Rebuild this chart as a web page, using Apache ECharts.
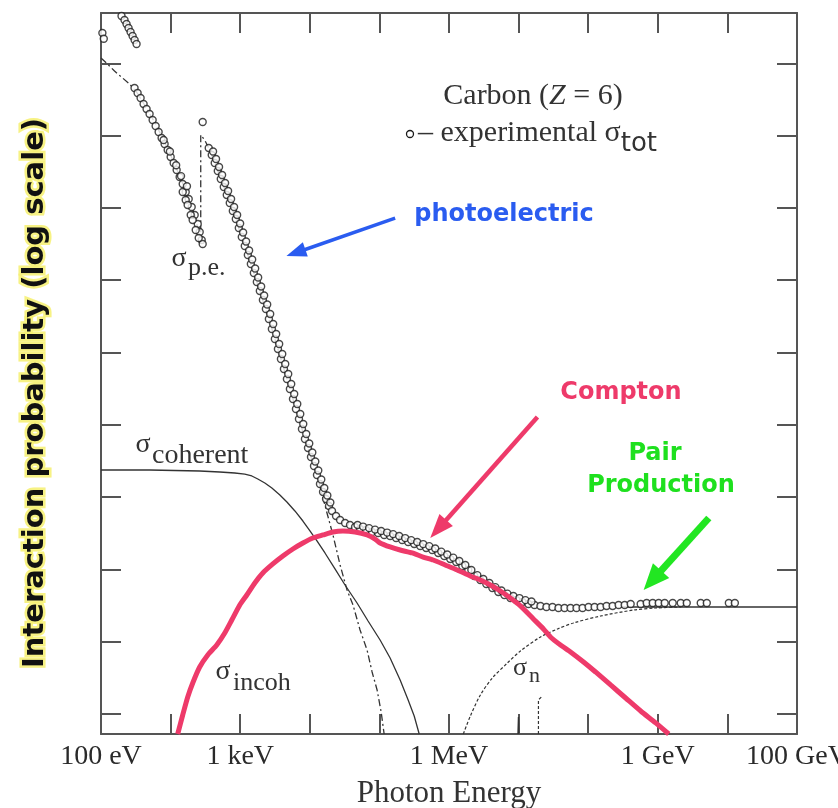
<!DOCTYPE html>
<html>
<head>
<meta charset="utf-8">
<title>Photon interaction probability in carbon</title>
<script src="https://cdn.jsdelivr.net/npm/echarts@6.0.0/dist/echarts.min.js"></script>
<style>
  html, body { margin: 0; padding: 0; background: #fff; }
  #chart { width: 838px; height: 808px; }
</style>
</head>
<body>
<div id="chart"></div>
<script>
// x values are log10(photon energy), y values are decades of interaction probability.

// Bottom axis tick labels (position on the log-energy axis -> text)
const energyTickPos = [1, 3, 6, 9, 11];
const energyTickText = ['100 eV', '1 keV', '1 MeV', '1 GeV', '100 GeV'];
const energyTicks = [1, 2, 3, 4, 5, 6, 7, 8, 9, 10, 11];
const probTicks = [0, 1, 2, 3, 4, 5, 6, 7, 8, 9];

// Experimental total cross section (open circles)
const expLowest = [[1.02, 9.42], [1.04, 9.34], [1.295, 9.654], [1.338, 9.599], [1.367, 9.543], [1.396, 9.488],
  [1.425, 9.433], [1.454, 9.378], [1.483, 9.322], [1.511, 9.267]];
const expBelowEdge = [[1.482, 8.658], [1.526, 8.589], [1.569, 8.520], [1.612, 8.437], [1.655, 8.368], [1.698, 8.299],
  [1.742, 8.216], [1.785, 8.133], [1.828, 8.050], [1.871, 7.967], [1.914, 7.884], [1.958, 7.801], [2.001, 7.704],
  [2.044, 7.621], [2.087, 7.524], [2.130, 7.427], [2.174, 7.331], [2.217, 7.220], [2.260, 7.123], [2.303, 7.012],
  [2.346, 6.902], [2.390, 6.777], [2.418, 6.667], [2.447, 6.556], [2.461, 6.501], [2.174, 7.220], [2.217, 7.109],
  [2.245, 7.040], [2.289, 6.902], [2.317, 6.833], [2.361, 6.694], [2.404, 6.584], [2.461, 8.188],
  [1.900, 7.940], [1.990, 7.780], [2.080, 7.590], [2.150, 7.440], [2.235, 7.300]];
const expAboveEdge = [[2.548, 7.828], [2.591, 7.732], [2.634, 7.621], [2.678, 7.510], [2.721, 7.400], [2.764, 7.289],
  [2.807, 7.178], [2.850, 7.068], [2.894, 6.957], [2.937, 6.846], [2.980, 6.722], [3.023, 6.597], [3.066, 6.473],
  [3.110, 6.348], [3.153, 6.224], [3.196, 6.099], [3.239, 5.975], [3.282, 5.850], [3.326, 5.726], [3.369, 5.602],
  [3.412, 5.463], [3.455, 5.325], [3.498, 5.187], [3.542, 5.048], [3.585, 4.910], [3.628, 4.772], [3.671, 4.633],
  [3.714, 4.495], [3.758, 4.357], [3.801, 4.218], [3.844, 4.080], [3.887, 3.942], [3.930, 3.804], [3.974, 3.679],
  [4.017, 3.555], [4.060, 3.430], [4.103, 3.306], [4.146, 3.181], [4.190, 3.070], [4.233, 2.974], [4.276, 2.877],
  [4.319, 2.808], [4.377, 2.739], [4.435, 2.683], [4.507, 2.642], [4.578, 2.614],
  [2.610, 7.780], [2.653, 7.677], [2.696, 7.566], [2.740, 7.455], [2.783, 7.345], [2.826, 7.234], [2.869, 7.123],
  [2.912, 7.013], [2.956, 6.902], [2.999, 6.784], [3.042, 6.660], [3.085, 6.535], [3.128, 6.411], [3.172, 6.286],
  [3.215, 6.162], [3.258, 6.037], [3.301, 5.913], [3.344, 5.788], [3.388, 5.664], [3.431, 5.533], [3.474, 5.394],
  [3.517, 5.256], [3.560, 5.118], [3.604, 4.979], [3.647, 4.841], [3.690, 4.703], [3.733, 4.564], [3.776, 4.426],
  [3.820, 4.288], [3.863, 4.149], [3.906, 4.011], [3.949, 3.873], [3.992, 3.742], [4.036, 3.617], [4.079, 3.493],
  [4.122, 3.368], [4.165, 3.244], [4.208, 3.126], [4.252, 3.022], [4.295, 2.926]];
const expHighEnergy = [[4.650, 2.586], [4.722, 2.559], [4.808, 2.545], [4.895, 2.517], [4.981, 2.503], [5.068, 2.476],
  [5.154, 2.462], [5.240, 2.434], [5.327, 2.407], [5.413, 2.379], [5.500, 2.351], [5.586, 2.324], [5.672, 2.296],
  [5.759, 2.268], [5.845, 2.227], [5.932, 2.185], [6.018, 2.144], [6.104, 2.102], [6.191, 2.047], [6.277, 1.992],
  [6.364, 1.909], [6.450, 1.853], [6.536, 1.798], [6.623, 1.743], [6.709, 1.687], [6.796, 1.646], [6.882, 1.604],
  [6.968, 1.577], [7.055, 1.549], [7.141, 1.521], [7.228, 1.508], [7.314, 1.494], [7.400, 1.480], [7.487, 1.480],
  [7.573, 1.466], [7.660, 1.466], [7.746, 1.466], [7.832, 1.466], [7.919, 1.466], [8.005, 1.480], [8.092, 1.480],
  [8.178, 1.480], [8.264, 1.494], [8.351, 1.494], [8.437, 1.508], [8.524, 1.508], [8.610, 1.521], [8.754, 1.521],
  [8.840, 1.535], [8.927, 1.535], [9.013, 1.535], [9.099, 1.535], [9.214, 1.535], [9.330, 1.535], [9.416, 1.535],
  [9.617, 1.535], [9.704, 1.535], [10.021, 1.535], [10.107, 1.535],
  [4.686, 2.613], [4.765, 2.592], [4.852, 2.571], [4.938, 2.550], [5.025, 2.530], [5.111, 2.509], [5.197, 2.488],
  [5.284, 2.461], [5.370, 2.433], [5.457, 2.405], [5.543, 2.378], [5.629, 2.350], [5.716, 2.322], [5.802, 2.288],
  [5.889, 2.246], [5.975, 2.205], [6.061, 2.163], [6.148, 2.115], [6.234, 2.060], [6.321, 1.991], [6.407, 1.921],
  [6.493, 1.866], [6.580, 1.811], [6.666, 1.755], [6.753, 1.707], [6.839, 1.665], [6.925, 1.631], [7.012, 1.603],
  [7.098, 1.575], [7.185, 1.555]];

// Calculated partial cross sections
const photoElectric = [[1.0, 9.073], [1.094, 8.990], [1.194, 8.893], [1.310, 8.797], [1.410, 8.714], [1.511, 8.603],
  [1.626, 8.423], [1.770, 8.188], [1.914, 7.911], [2.058, 7.607], [2.202, 7.275], [2.346, 6.902], [2.418, 6.611],
  [2.433, 6.514], [2.433, 8.008], [2.490, 7.939], [2.563, 7.801], [2.721, 7.400], [2.894, 6.957], [3.066, 6.473],
  [3.239, 5.975], [3.412, 5.463], [3.585, 4.910], [3.758, 4.357], [3.930, 3.804], [4.103, 3.306], [4.247, 2.780],
  [4.333, 2.476], [4.435, 2.061], [4.535, 1.715], [4.621, 1.508], [4.722, 1.162], [4.823, 0.885], [4.895, 0.581],
  [4.967, 0.332], [5.025, 0.028], [5.068, -0.277]];
const coherent = [[1.0, 3.375], [1.698, 3.375], [2.418, 3.361], [2.706, 3.347], [2.922, 3.333], [3.066, 3.319],
  [3.167, 3.292], [3.253, 3.250], [3.354, 3.195], [3.455, 3.126], [3.570, 3.029], [3.671, 2.932], [3.786, 2.808],
  [3.901, 2.669], [4.002, 2.531], [4.103, 2.393], [4.218, 2.227], [4.362, 2.006], [4.506, 1.784], [4.679, 1.535],
  [4.837, 1.286], [5.010, 1.023], [5.154, 0.775], [5.298, 0.470], [5.413, 0.194], [5.500, -0.028], [5.572, -0.277]];
const compton = [[2.102, -0.277], [2.174, -0.014], [2.246, 0.235], [2.318, 0.429], [2.418, 0.650], [2.534, 0.816],
  [2.663, 0.954], [2.778, 1.120], [2.879, 1.300], [2.994, 1.508], [3.095, 1.646], [3.210, 1.812], [3.325, 1.950],
  [3.469, 2.075], [3.613, 2.185], [3.757, 2.282], [3.901, 2.365], [4.045, 2.434], [4.189, 2.476], [4.333, 2.517],
  [4.477, 2.531], [4.650, 2.517], [4.823, 2.476], [4.938, 2.420], [5.010, 2.365], [5.154, 2.310], [5.298, 2.268],
  [5.471, 2.227], [5.629, 2.171], [5.773, 2.130], [5.946, 2.061], [6.118, 1.992], [6.306, 1.909], [6.450, 1.853],
  [6.594, 1.784], [6.738, 1.701], [6.882, 1.604], [7.026, 1.494], [7.213, 1.314], [7.357, 1.176], [7.458, 1.065],
  [7.602, 0.954], [7.746, 0.858], [7.933, 0.719], [8.106, 0.581], [8.322, 0.401], [8.538, 0.221], [8.754, 0.041],
  [8.970, -0.124], [9.157, -0.277]];
const pairNuclear = [[6.206, -0.277], [6.307, -0.028], [6.451, 0.263], [6.623, 0.498], [6.839, 0.705], [7.026, 0.871],
  [7.314, 1.065], [7.559, 1.176], [7.789, 1.259], [8.178, 1.355], [8.653, 1.438], [8.970, 1.466], [9.330, 1.480]];
const totalHighEnergy = [[8.466, 1.48], [11, 1.48]];
const nuclearSpike = [[6.990, -0.277], [6.997, -0.041], [7.004, -0.277]];
const nuclearDashed = [[7.285, -0.277], [7.285, 0.194], [7.328, 0.235]];

// Annotation arrows: [tail, head]
const arrowPhoto = [[5.226, 6.860], [3.800, 6.380]];
const arrowCompton = [[7.271, 4.108], [5.845, 2.559]];
const arrowPair = [[9.733, 2.711], [8.922, 1.848]];

const SERIF = '"Liberation Serif", "DejaVu Serif", serif';
const SANS = '"DejaVu Sans", "Liberation Sans", sans-serif';
const INK = '#333';

function arrow(pts, color, width, head) {
  return [
    { coord: pts[0], symbol: 'none', lineStyle: { color: color, width: width, type: 'solid' } },
    { coord: pts[1], symbol: 'triangle', symbolSize: head, lineStyle: { color: color, width: width, type: 'solid' },
      itemStyle: { color: color } }
  ];
}

function frameAxis(extra) {
  return Object.assign({
    type: 'value',
    axisLine: { show: true, onZero: false, lineStyle: { color: '#555', width: 2 } },
    axisTick: { show: true, inside: true, length: 20, lineStyle: { color: '#555', width: 2 } },
    axisLabel: { show: false },
    splitLine: { show: false }
  }, extra);
}

function subText(x, y, text, size, align) {
  return {
    type: 'text', x: x, y: y, z: 10,
    style: { text: text, font: size + 'px ' + SERIF, fill: INK, align: align, verticalAlign: 'middle',
      textAlign: align, textVerticalAlign: 'middle' }
  };
}

function calloutText(x, y, text, color) {
  return {
    type: 'text', x: x, y: y, z: 10,
    style: { text: text, font: 'bold 24px ' + SANS, fill: color, align: 'center', verticalAlign: 'middle',
      textAlign: 'center', textVerticalAlign: 'middle' }
  };
}

const chart = echarts.init(document.getElementById('chart'), null, { renderer: 'canvas' });

const option = {
  backgroundColor: '#fff',
  animation: false,
  grid: { left: 101, right: 41, top: 13, bottom: 74, containLabel: false, outerBoundsMode: 'none' },
  xAxis: [
    frameAxis({
      position: 'bottom', min: 1, max: 11,
      axisTick: { show: true, inside: true, length: 20, customValues: energyTicks, lineStyle: { color: '#555', width: 2 } },
      axisLabel: {
        show: true, customValues: energyTickPos, margin: 9,
        fontFamily: SERIF, fontSize: 28, color: '#2a2a2a',
        formatter: function (v) {
          const i = energyTickPos.indexOf(Math.round(v));
          return i >= 0 ? energyTickText[i] : '';
        }
      },
      name: 'Photon Energy', nameLocation: 'middle', nameGap: 44,
      nameTextStyle: { fontFamily: SERIF, fontSize: 31, color: INK }
    }),
    frameAxis({
      position: 'top', min: 1, max: 11,
      axisTick: { show: true, inside: true, length: 20, customValues: energyTicks, lineStyle: { color: '#555', width: 2 } }
    })
  ],
  yAxis: [
    frameAxis({
      position: 'left', min: -0.277, max: 9.696,
      axisTick: { show: true, inside: true, length: 20, customValues: probTicks, lineStyle: { color: '#555', width: 2 } }
    }),
    frameAxis({
      position: 'right', min: -0.277, max: 9.696,
      axisTick: { show: true, inside: true, length: 20, customValues: probTicks, lineStyle: { color: '#555', width: 2 } }
    })
  ],
  series: [
    {
      name: 'coherent', type: 'line', data: coherent, showSymbol: false, z: 2,
      lineStyle: { color: '#333', width: 1.3 },
      markLine: {
        silent: true, symbol: ['none', 'triangle'], label: { show: false }, z: 6,
        data: [
          arrow(arrowPhoto, '#2a5cf0', 3.5, [15, 20]),
          arrow(arrowCompton, '#ee3a6a', 4.5, [18, 24]),
          arrow(arrowPair, '#22e622', 7, [22, 26])
        ]
      }
    },
    {
      name: 'photoelectric', type: 'line', data: photoElectric, showSymbol: false, z: 2,
      lineStyle: { color: '#333', width: 1.3, type: [7, 3, 2, 3] }
    },
    {
      name: 'pair', type: 'line', data: pairNuclear, showSymbol: false, smooth: 0.3, z: 2,
      lineStyle: { color: '#333', width: 1.2, type: [3, 2] }
    },
    {
      name: 'total', type: 'line', data: totalHighEnergy, showSymbol: false, z: 2,
      lineStyle: { color: '#333', width: 1.3 }
    },
    {
      name: 'nuclear', type: 'line', data: nuclearSpike, showSymbol: false, z: 2,
      lineStyle: { color: '#333', width: 1.2 }
    },
    {
      name: 'nuclear2', type: 'line', data: nuclearDashed, showSymbol: false, z: 2,
      lineStyle: { color: '#333', width: 1.2, type: [3, 2] }
    },
    {
      name: 'experimental', type: 'scatter', z: 3,
      data: [].concat(expLowest, expBelowEdge, expAboveEdge, expHighEnergy),
      symbol: 'circle', symbolSize: 7,
      itemStyle: { color: '#fff', borderColor: '#1a1a1a', borderWidth: 1.4 }
    },
    {
      name: 'Compton', type: 'line', data: compton, showSymbol: false, smooth: 0.2, z: 5,
      lineStyle: { color: '#ee3a6a', width: 5 }
    }
  ],
  graphic: [
    {
      type: 'text', x: 35, y: 393, rotation: Math.PI / 2, z: 10,
      style: {
        text: 'Interaction probability (log scale)', fill: '#111',
        font: 'bold 29px "DejaVu Sans", sans-serif',
        align: 'center', verticalAlign: 'middle', textAlign: 'center', textVerticalAlign: 'middle',
        stroke: 'rgba(246,240,110,0.85)', lineWidth: 5,
        shadowColor: 'rgba(235,225,0,1)', shadowBlur: 8
      }
    },
    {
      type: 'text', x: 533, y: 96, z: 10,
      style: {
        text: '{m|Carbon (}{i|Z}{m| = 6)}', fill: INK,
        align: 'center', verticalAlign: 'middle', textAlign: 'center', textVerticalAlign: 'middle',
        rich: {
          m: { fontFamily: SERIF, fontSize: 30, fill: INK, color: INK },
          i: { fontFamily: SERIF, fontSize: 30, fontStyle: 'italic', fill: INK, color: INK }
        }
      }
    },
    {
      type: 'circle', z: 10, shape: { cx: 410, cy: 134, r: 3.5 },
      style: { fill: '#fff', stroke: '#1a1a1a', lineWidth: 1.3 }
    },
    {
      type: 'text', x: 418, y: 133, z: 10,
      style: {
        text: '{m|– experimental σ}{s|tot}', fill: INK,
        align: 'left', verticalAlign: 'middle', textAlign: 'left', textVerticalAlign: 'middle',
        rich: {
          m: { fontFamily: SERIF, fontSize: 30, lineHeight: 48, fill: INK, color: INK },
          s: { fontFamily: SANS, fontSize: 26, lineHeight: 26, verticalAlign: 'bottom', fill: INK, color: INK }
        }
      }
    },
    subText(179, 259, 'σ', 28, 'center'),
    subText(188, 268, 'p.e.', 26, 'left'),
    subText(143, 445, 'σ', 28, 'center'),
    subText(152, 456, 'coherent', 28, 'left'),
    subText(223, 672, 'σ', 28, 'center'),
    subText(233, 683, 'incoh', 26, 'left'),
    subText(520, 668, 'σ', 26, 'center'),
    subText(529, 676, 'n', 22, 'left'),
    calloutText(504, 215, 'photoelectric', '#2a5cf0'),
    calloutText(621, 393, 'Compton', '#ee3a6a'),
    calloutText(655, 454, 'Pair', '#1ee01e'),
    calloutText(661, 486, 'Production', '#1ee01e')
  ]
};

chart.setOption(option);
</script>
</body>
</html>
